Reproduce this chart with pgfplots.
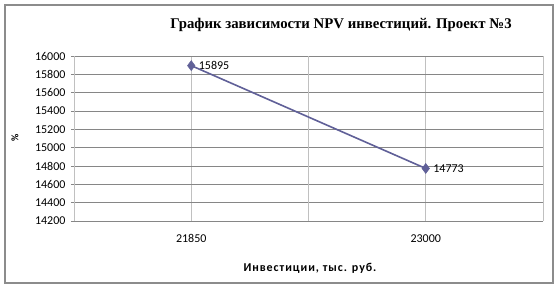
\documentclass[border=0pt]{standalone}
\usepackage{pgfplots}
\pgfplotsset{compat=1.18}
\usepackage{fontspec}
\setmainfont{Carlito}
\newfontfamily\titlefont{Liberation Serif}
\newfontfamily\spacedfont[LetterSpace=8]{Carlito}
\definecolor{ser}{RGB}{96,96,152}
\definecolor{gridd}{RGB}{134,134,134}
\definecolor{gridl}{RGB}{192,192,192}
\begin{document}
\begin{tikzpicture}[x=1pt,y=1pt]
\useasboundingbox (-74,-68) rectangle (485,221);
\draw[gray!90, line width=1.2pt, fill=white] (-69,-62) rectangle (479,216);
\begin{axis}[
  at={(0,0)}, anchor=origin,
  scale only axis, width=469pt, height=165pt,
  xmin=0.5, xmax=2.5, ymin=14200, ymax=16000,
  ytick distance=200,
  scaled y ticks=false,
  xtick={1,2}, xticklabels={21850,23000},
  x tick style={draw=none},
  extra x ticks={0.5,1.5,2.5}, extra x tick labels={},
  extra x tick style={tick style={draw=gridd, line width=0.8pt}, major tick length=4pt, tick align=outside, grid style={gridl, line width=0.8pt}},
  axis lines*=left,
  axis line style={gridd, line width=0.8pt},
  y tick style={draw=gridd, line width=0.8pt},
  ytick align=outside, major tick length=3pt,
  ymajorgrids, xmajorgrids,
  y grid style={gridd, line width=0.8pt},
  x grid style={gridl, line width=0.8pt},
  tick label style={font=\fontsize{12}{13}\selectfont},
  /pgf/number format/assume math mode=true,
  /pgf/number format/set thousands separator={},
  /pgf/number format/fixed,
  /pgf/number format/precision=0,
  yticklabel style={xshift=-2pt},
  xticklabel style={yshift=-10pt},
  clip=false,
  nodes near coords,
  every node near coord/.append style={anchor=west, xshift=4pt, yshift=0pt, font=\fontsize{12}{13}\selectfont, text=black},
]
\addplot[color=ser, line width=1.6pt, mark=diamond*, mark size=5pt, mark options={fill=ser, draw=ser, line width=0.5pt}]
  coordinates {(1,15895) (2,14773)};
\end{axis}
\node[font=\titlefont\bfseries\fontsize{14.8}{16}\selectfont] at (267,196) {График зависимости NPV инвестиций. Проект №3};
\node[font=\spacedfont\bfseries\fontsize{12}{13}\selectfont] at (236,-47) {Инвестиции, тыс. руб.};
\node[rotate=90, font=\bfseries\fontsize{10}{12}\selectfont] at (-59,83) {\%};
\end{tikzpicture}
\end{document}
